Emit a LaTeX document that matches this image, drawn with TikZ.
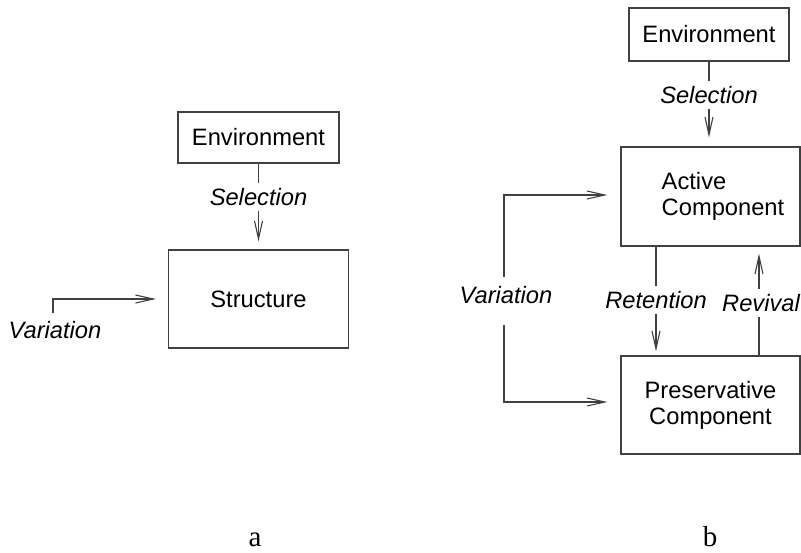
\documentclass[tikz,border=0pt]{standalone}
\usepackage{fontspec}
\setmainfont{Liberation Sans}
\newfontfamily\serifab{Liberation Serif}
\usetikzlibrary{arrows.meta,calc}
\begin{document}
\begin{tikzpicture}[x=1pt,y=-1pt,
  box/.style={draw=black!75, line width=1.1pt, rectangle},
  txt/.style={font=\fontsize{23.7}{26}\selectfont, inner sep=0pt, align=center},
  lbl/.style={font=\fontsize{23.7}{26}\selectfont\itshape, inner xsep=0pt, inner ysep=5pt},
  conn/.style={draw=black!75, line width=1.1pt},
  arr/.style={conn, -{Straight Barb[length=18pt,width=8pt]}},
  sublbl/.style={font=\serifab\fontsize{29}{32}\selectfont, inner sep=0pt}
  ]
\useasboundingbox (0,0) rectangle (801,552);

% ---- (a) ----
\node[box, txt, minimum width=161pt, minimum height=51pt] (envA) at (258.5,137.5) {Environment};
\node[box, txt, minimum width=180pt, minimum height=98pt] (struct) at (258.5,299) {Structure};
\node[lbl] (selA) at (258.5,197) {Selection};
\draw[conn] (envA.south) -- (selA.north);
\draw[arr, shorten >=8pt] (selA.south) -- (struct.north);

\node[lbl, inner ysep=0pt] (varA) at (55,330) {Variation};
\coordinate (varAstart) at (53,313);
\draw[arr, shorten >=12pt] (varAstart) |- (struct.west);

\node[sublbl] (la) at (255,540) {a};

% ---- (b) ----
\node[box, txt, minimum width=160pt, minimum height=53pt] (envB) at (709,34.5) {Environment};
\node[box, minimum width=179pt, minimum height=99pt] (active) at (710.5,196.5) {};
\node[txt, align=left] (activetxt) at (723,196.5) {Active\\Component};
\node[box, txt, minimum width=179pt, minimum height=98pt] (pres) at (710.5,405) {Preservative\\Component};

\node[lbl] (selB) at (709,95) {Selection};
\draw[conn] (envB.south) -- (selB.north);
\draw[arr, shorten >=9pt] (selB.south) -- (selB.south |- active.north);

\node[lbl] (ret) at (656,300) {Retention};
\draw[conn] (ret.north |- active.south) -- (ret.north);
\draw[arr, shorten >=4pt] (ret.south) -- (ret.south |- pres.north);

\node[lbl] (rev) at (761,303) {Revival};
\coordinate (revx) at (759,300);
\draw[conn] (revx |- pres.north) -- (revx |- rev.south);
\draw[arr, shorten >=7pt] (revx |- rev.north) -- (revx |- active.south);

\node[lbl, inner ysep=0pt] (varB) at (506,295) {Variation};
\coordinate (varx) at (504,295);
\draw[arr, shorten >=13pt] ($(varx |- varB.north)+(0,-9)$) |- ($(active.west)+(0,-1.5)$);
\draw[arr, shorten >=13pt] ($(varx |- varB.south)+(0,21.5)$) |- ($(pres.west)+(0,-3)$);

\node[sublbl] (lb) at (710,537) {b};
\end{tikzpicture}
\end{document}
